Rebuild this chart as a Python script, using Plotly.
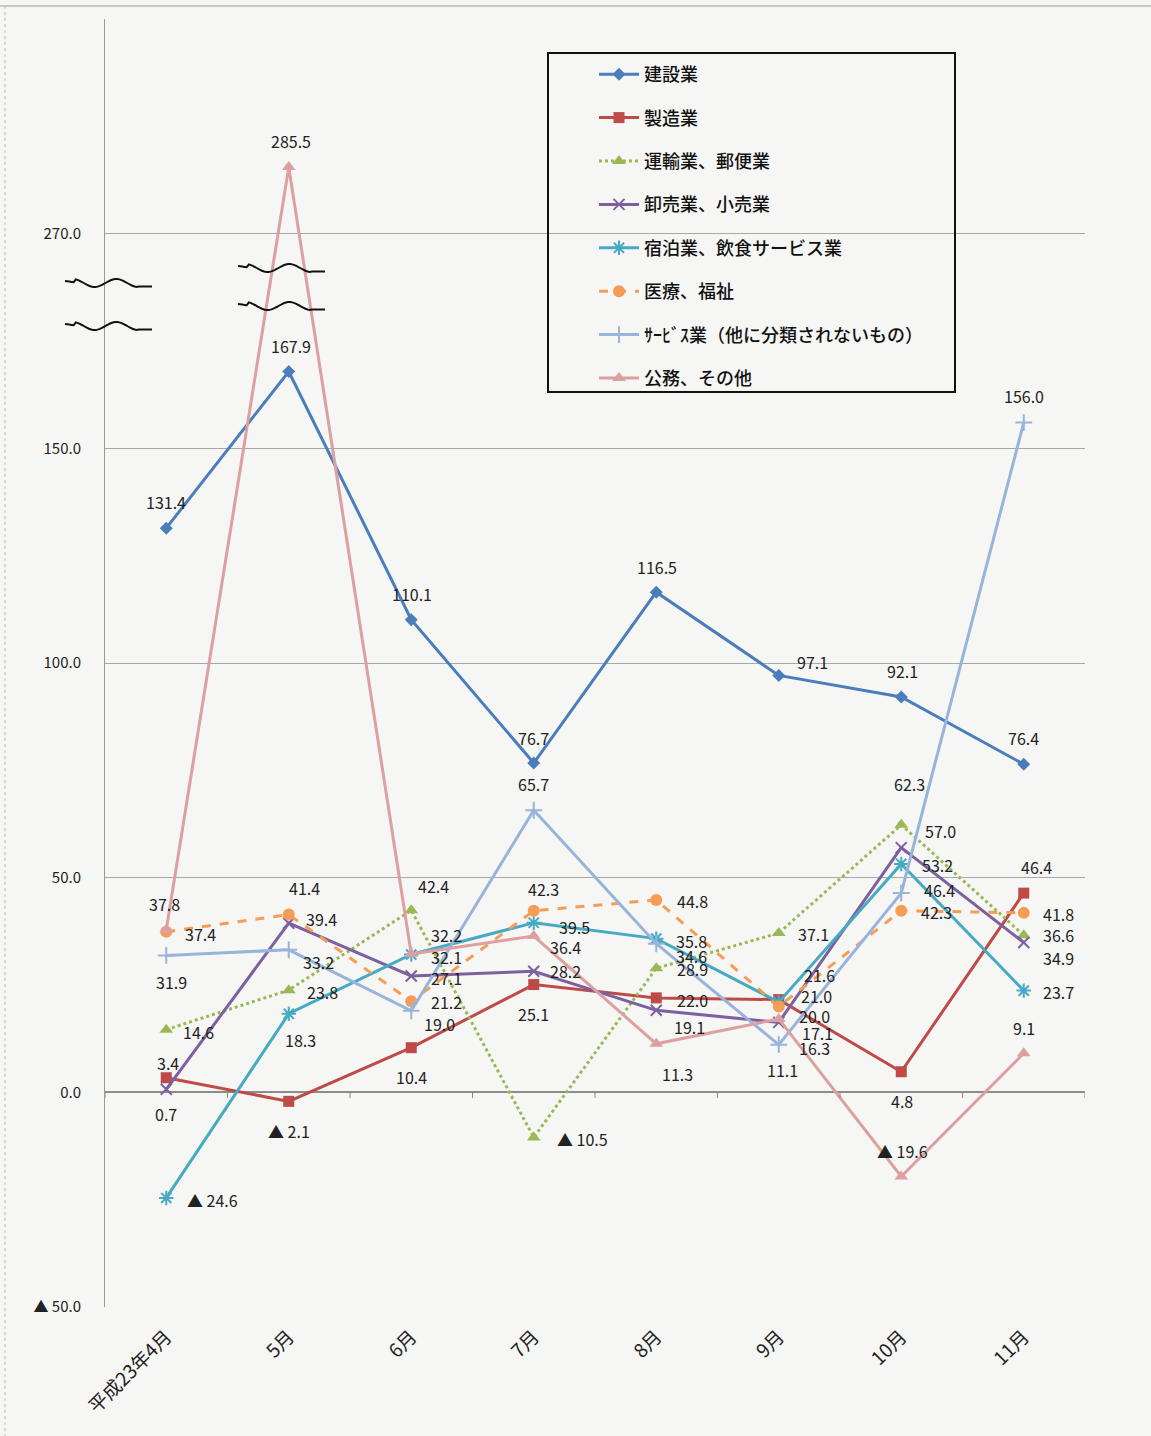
import math
import plotly.graph_objects as go

# ---------------- data ----------------
categories = ["平成23年4月", "5月", "6月", "7月", "8月", "9月", "10月", "11月"]
series_names = ["建設業", "製造業", "運輸業、郵便業", "卸売業、小売業",
                "宿泊業、飲食サービス業", "医療、福祉",
                "ｻｰﾋﾞｽ業（他に分類されないもの）", "公務、その他"]
kensetsu = [131.4, 167.9, 110.1, 76.7, 116.5, 97.1, 92.1, 76.4]
seizo = [3.4, -2.1, 10.4, 25.1, 22.0, 21.6, 4.8, 46.4]
unyu = [14.6, 23.8, 42.4, -10.5, 28.9, 37.1, 62.3, 36.6]
oroshi = [0.7, 39.4, 27.1, 28.2, 19.1, 16.3, 57.0, 34.9]
shukuhaku = [-24.6, 18.3, 32.1, 39.5, 35.8, 21.0, 53.2, 23.7]
iryo = [37.4, 41.4, 21.2, 42.3, 44.8, 20.0, 42.3, 41.8]
service = [31.9, 33.2, 19.0, 65.7, 34.6, 11.1, 46.4, 156.0]
koumu = [37.8, 285.5, 32.2, 36.4, 11.3, 17.1, -19.6, 9.1]
tick_values = [-50, 0, 50, 100, 150, 270]

# axis break: values above BREAK_AT are drawn shifted down by BREAK_GAP
BREAK_AT = 180
BREAK_GAP = 70


def brk(v):
    return v - BREAK_GAP if v > BREAK_AT else v


def fmt(v):
    return ("▲ %.1f" % abs(v)) if v < 0 else ("%.1f" % v)


all_series = [kensetsu, seizo, unyu, oroshi, shukuhaku, iryo, service, koumu]

# ---------------- styles / label offsets (pixels) ----------------
styles = [
    dict(color="#4A7EBB", dash="solid", symbol="diamond", size=10),
    dict(color="#BE4B48", dash="solid", symbol="square", size=11),
    dict(color="#98B954", dash="dot", symbol="triangle-up", size=12),
    dict(color="#7D60A0", dash="solid", symbol="x-thin", size=11),
    dict(color="#46AAC5", dash="solid", symbol="asterisk", size=12),
    dict(color="#F59D56", dash="dash", symbol="circle", size=12),
    dict(color="#98B4DA", dash="solid", symbol="cross-thin", size=12),
    dict(color="#DDA0A0", dash="solid", symbol="triangle-up", size=12),
]
offsets = [
    [(0, -26), (2, -25), (1, -26), (0, -25), (1, -25), (34, -13), (1, -26), (0, -26)],
    [(2, -15), (0, 30), (0, 29), (0, 29), (36, 2), (41, -25), (1, 29), (13, -26)],
    [(32, 2), (34, 2), (22, -24), (49, 2), (36, 1), (35, 1), (8, -41), (35, 0)],
    [(0, 25), (33, -4), (35, 2), (32, 0), (33, 17), (36, 26), (39, -17), (35, 15)],
    [(46, 2), (12, 26), (35, 2), (41, 4), (35, 2), (38, -6), (36, 1), (35, 1)],
    [(34, 2), (16, -27), (35, 1), (10, -22), (36, 1), (36, 10), (35, 1), (35, 1)],
    [(5, 27), (30, 12), (28, 13), (0, -26), (35, 12), (4, 25), (38, -3), (0, -27)],
    [(-2, -26), (2, -26), (35, -19), (32, 11), (21, 30), (39, 14), (1, -25), (0, -25)],
]

FONT = "Noto Sans CJK JP"
W, H = 1151, 1436
L, R, T, B = 105, 1085, 19, 1307


def px(x):
    return (x - L) / (R - L)


def py(y):
    return (B - y) / (B - T)


fig = go.Figure()
annotations = []
for name, vals, st, offs in zip(series_names, all_series, styles, offsets):
    line_sym = st["symbol"] in ("x-thin", "asterisk", "cross-thin")
    fig.add_trace(go.Scatter(
        x=categories, y=[brk(v) for v in vals], name=name,
        mode="lines+markers", legendgroup=name,
        line=dict(color=st["color"], width=3, dash=st["dash"]),
        marker=dict(symbol=st["symbol"], size=st["size"], color=st["color"],
                    line=dict(color=st["color"], width=2 if line_sym else 0)),
    ))
    for c, v, (dx, dy) in zip(categories, vals, offs):
        annotations.append(dict(
            x=c, y=brk(v), xref="x", yref="y", text=fmt(v), showarrow=False,
            xshift=dx, yshift=-dy, font=dict(family=FONT, size=16, color="#222222"),
        ))

# ---------------- shapes: axis-break waves, ticks, legend frame ----------------
shapes = []


def wave(x0, x1, yc, amp=4):
    pts = []
    n = 40
    for k in range(n + 1):
        t = k / n
        if t <= 0.1:
            yy = yc - amp * 0.5 + (t / 0.1) * amp * 0.3
        elif t < 0.85:
            yy = yc + amp * math.cos(2 * math.pi * (t - 0.34) / 0.5)
        else:
            yy = yc + amp * 0.9
        pts.append((x0 + (x1 - x0) * t, yy))
    path = "M " + " L ".join("%.5f,%.5f" % (px(a), py(b)) for a, b in pts)
    return dict(type="path", xref="paper", yref="paper", path=path,
                line=dict(color="#111111", width=2))


for (x0, x1, yc) in [(65, 152, 283), (65, 152, 326), (238, 325, 268), (238, 325, 306)]:
    shapes.append(wave(x0, x1, yc))

# small tick marks on the zero line between categories
for i in range(len(categories) + 1):
    shapes.append(dict(type="line", xref="x", yref="y", x0=i - 0.5, x1=i - 0.5,
                       y0=0, y1=-1.3, line=dict(color="#888888", width=1)))

# legend frame
shapes.append(dict(type="rect", xref="paper", yref="paper",
                   x0=px(548), x1=px(955), y0=py(392), y1=py(53),
                   line=dict(color="#111111", width=2), fillcolor="rgba(0,0,0,0)"))
# page border
shapes.append(dict(type="line", xref="paper", yref="paper",
                   x0=px(0), x1=px(W), y0=py(6), y1=py(6),
                   line=dict(color="#999999", width=1)))
shapes.append(dict(type="line", xref="paper", yref="paper",
                   x0=px(5), x1=px(5), y0=py(6), y1=py(H),
                   line=dict(color="#BBBBBB", width=1, dash="dot")))

tickvals = [brk(v) for v in tick_values] + [250]
ticktext = [fmt(v) for v in tick_values] + [""]

fig.update_layout(
    width=W, height=H,
    margin=dict(l=L, r=W - R, t=T, b=H - B, pad=0),
    paper_bgcolor="#F6F6F4", plot_bgcolor="#F6F6F4",
    font=dict(family=FONT, size=15, color="#222222"),
    showlegend=True,
    legend=dict(x=px(594), y=py(56), xanchor="left", yanchor="top",
                bgcolor="rgba(0,0,0,0)", borderwidth=0,
                font=dict(family=FONT, size=18, color="#111111", weight=500),
                traceorder="grouped", tracegroupgap=17, itemwidth=40),
    annotations=annotations,
    shapes=shapes,
    xaxis=dict(type="category", tickangle=-45, showgrid=False, showline=False,
               ticks="", tickfont=dict(family=FONT, size=19),
               ticklabelstandoff=14,
               range=[-0.5, len(categories) - 0.5]),
    yaxis=dict(range=[-50, 250], tickvals=tickvals, ticktext=ticktext,
               showgrid=True, gridcolor="#A8A8A8", gridwidth=1,
               zeroline=True, zerolinecolor="#8C8C8C", zerolinewidth=1.5,
               showline=True, linecolor="#9A9A9A", linewidth=1,
               ticks="", ticklabelstandoff=20,
               tickfont=dict(family=FONT, size=15)),
)

fig.write_html(
    "out.html",
    config={"displayModeBar": False},
    post_script="document.body.style.margin='0px';document.body.style.overflow='hidden';"
                "document.documentElement.style.overflow='hidden';",
)
